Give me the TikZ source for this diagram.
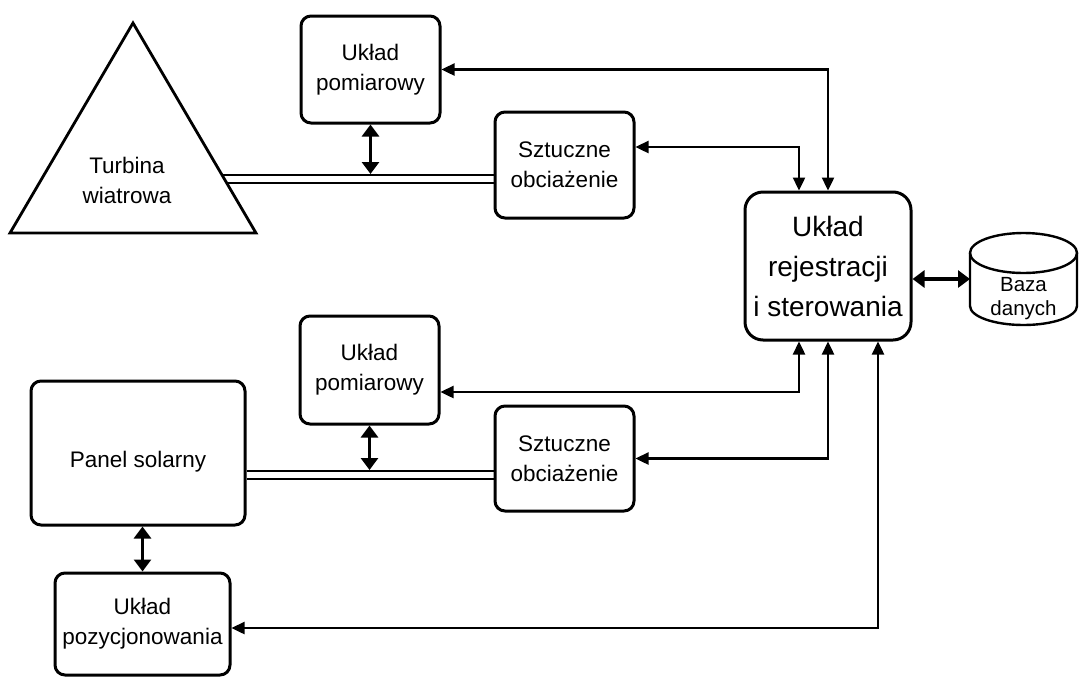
\documentclass[tikz,border=0pt]{standalone}
\usepackage{fontspec}
\setmainfont{Liberation Sans}
\usetikzlibrary{arrows.meta,calc,backgrounds}
\begin{document}
\begin{tikzpicture}[x=1pt,y=-1pt,
  box/.style={draw, line width=3pt, rounded corners=10pt, align=center,
    font=\fontsize{22.5}{30}\selectfont, inner sep=0pt},
  plain/.style={align=center, font=\fontsize{22.5}{30}\selectfont, inner sep=0pt},
  conn/.style={line width=2.4pt, {Triangle[length=13pt,width=12pt]}-{Triangle[length=13pt,width=12pt]}},
  biarrow/.style={line width=3.8pt, {Triangle[length=12pt,width=17pt]}-{Triangle[length=12pt,width=17pt]}},
  bus/.style={double, double distance=5.5pt, line width=2.2pt},
  cyl/.style={line width=2.4pt}]
\useasboundingbox (0,0) rectangle (1079,678);

% wind turbine (triangle drawn over the start of its bus)
\draw[line width=2.8pt, fill=white, line join=miter] (133,23) -- (256,233) -- (10,233) -- cycle;
\node[plain] (turb) at (127,180) {Turbina\\wiatrowa};

% upper branch
\node[box, minimum width=139pt, minimum height=107pt] (pom1) at (370.5,69.5) {Układ\\pomiarowy};
\node[box, minimum width=139pt, minimum height=106pt] (szt1) at (564.5,165) {Sztuczne\\obciażenie};

% control unit
\node[box, rounded corners=18pt, minimum width=166pt, minimum height=148pt,
  font=\fontsize{28}{40}\selectfont] (rej) at (828,266) {Układ\\rejestracji\\i sterowania};

% database
\node[minimum width=107pt, minimum height=92pt, inner sep=0pt, outer sep=0pt] (baza) at (1023.5,279) {};
\draw[cyl] (1023.5,253) ellipse [x radius=53.5pt, y radius=20pt];
\draw[cyl] (970,253) -- (970,306) arc[start angle=180, end angle=360, x radius=53.5pt, y radius=19pt] -- (1077,253);
\node[align=center, font=\fontsize{20.5}{24}\selectfont, inner sep=0pt] (bazatext) at (1023.5,299) {Baza\\danych};

% lower branch
\node[box, minimum width=139pt, minimum height=108pt] (pom2) at (369.5,370) {Układ\\pomiarowy};
\node[box, minimum width=139pt, minimum height=105pt] (szt2) at (564.5,458.5) {Sztuczne\\obciażenie};
\node[box, minimum width=214pt, minimum height=144pt] (panel) at (138,453) {\raisebox{-9pt}[\height][\depth]{Panel solarny}};
\node[box, minimum width=175pt, minimum height=102pt] (poz) at (142.5,624) {Układ\\pozycjonowania};

% power buses (double lines)
\coordinate (b1) at (200,179);
\coordinate (b2) at ([yshift=-22pt]panel.east);
\begin{scope}[on background layer]
  \draw[bus] (b1) -- (b1 -| szt1.west);
  \draw[bus] (b2) -- (b2 -| szt2.west);
\end{scope}
\coordinate (j1) at (370.5,174);
\coordinate (j2) at (369.5,470);

% measurement taps
\draw[biarrow] (pom1.south) -- (pom1.south |- j1);
\draw[biarrow] (pom2.south) -- (pom2.south |- j2);
\draw[biarrow] (poz.north |- panel.south) -- (poz.north);
\draw[biarrow] (rej.east |- baza.west) -- (baza.west);

% control connections
\draw[conn] (pom1.east) -| (rej.north);
\draw[conn] ([yshift=18pt]szt1.east) -| ([xshift=-29pt]rej.north);
\draw[conn] ([yshift=-22pt]pom2.east) -| ([xshift=-29pt]rej.south);
\draw[conn] (szt2.east) -| (rej.south);
\draw[conn] ([yshift=-4pt]poz.east) -| ([xshift=50pt]rej.south);
\end{tikzpicture}
\end{document}
